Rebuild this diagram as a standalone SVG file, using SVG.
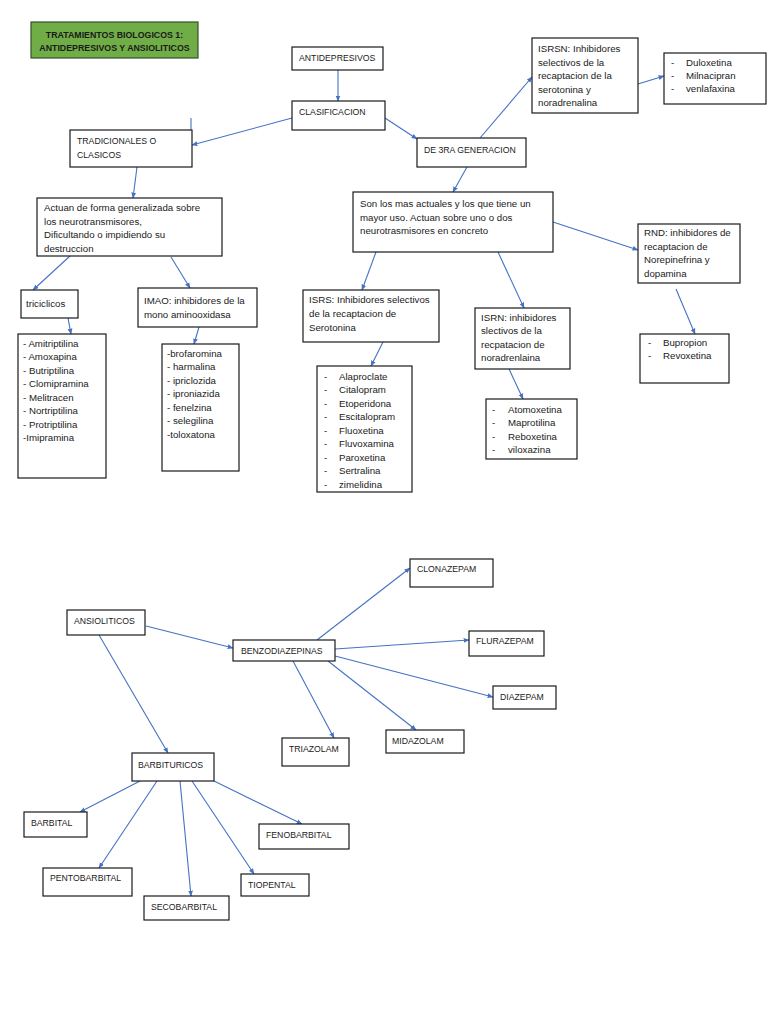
<svg xmlns="http://www.w3.org/2000/svg" width="768" height="1024" viewBox="0 0 768 1024">
<defs>
<marker id="a" viewBox="0 0 10 10" refX="9" refY="5" markerWidth="6" markerHeight="6" orient="auto" markerUnits="userSpaceOnUse"><path d="M0,1 L10,5 L0,9 z" fill="#4472c4"/></marker>
<style>
rect{fill:#fff;stroke:#1a1a1a;stroke-width:1.2}
text{font-family:"Liberation Sans",Arial,sans-serif;font-size:9.7px;fill:#1a1a1a}
text.u{font-size:8.7px}
.c line{stroke:#4472c4;stroke-width:1.1;marker-end:url(#a)}
.c line.n{marker-end:none}
.t rect{fill:#70ad47;stroke:#33512a}
.t text{text-anchor:middle;font-weight:bold;font-size:8.8px}
</style>
</defs>
<rect x="0" y="0" width="768" height="1024" style="fill:#fff;stroke:none"/>
<g id="title" class="t"><rect x="31" y="22" width="167" height="36"/><text x="114.5" y="38">TRATAMIENTOS BIOLOGICOS 1:</text><text x="114.5" y="51">ANTIDEPRESIVOS Y ANSIOLITICOS</text></g>

<g class="c" id="connectors">
<line x1="338" y1="70" x2="338" y2="101"/>
<line x1="292" y1="118" x2="192" y2="145"/>
<line class="n" x1="191" y1="118" x2="191" y2="145"/>
<line x1="385" y1="118" x2="417" y2="139"/>
<line x1="480" y1="138" x2="532" y2="77"/>
<line x1="638" y1="84" x2="664" y2="76"/>
<line x1="137" y1="167" x2="133" y2="198"/>
<line x1="70" y1="256" x2="33" y2="290"/>
<line x1="171" y1="257" x2="190" y2="288"/>
<line x1="68" y1="318" x2="71" y2="334"/>
<line x1="199" y1="327" x2="194" y2="344"/>
<line x1="467" y1="167" x2="453" y2="192"/>
<line x1="376" y1="252" x2="362" y2="290"/>
<line x1="498" y1="252" x2="524" y2="308"/>
<line x1="553" y1="222" x2="638" y2="250"/>
<line x1="383" y1="342" x2="371" y2="366"/>
<line x1="509" y1="369" x2="523" y2="399"/>
<line x1="676" y1="289" x2="695" y2="334"/>
<line x1="146" y1="626" x2="233" y2="648"/>
<line x1="99" y1="635" x2="168" y2="753"/>
<line x1="317" y1="640" x2="410" y2="568"/>
<line x1="335" y1="649" x2="469" y2="640"/>
<line x1="335" y1="656" x2="493" y2="697"/>
<line x1="328" y1="661" x2="416" y2="730"/>
<line x1="293" y1="661" x2="334" y2="738"/>
<line x1="140" y1="781" x2="80" y2="812"/>
<line x1="157" y1="781" x2="99" y2="868"/>
<line x1="180" y1="781" x2="191" y2="896"/>
<line x1="192" y1="781" x2="254" y2="874"/>
<line x1="214" y1="781" x2="302" y2="824"/>
</g>

<g id="antidepresivos"><rect x="292" y="47" width="91" height="23"/><text class="u" x="299" y="61">ANTIDEPRESIVOS</text></g>
<g id="clasificacion"><rect x="292" y="101" width="93" height="29"/><text class="u" x="299" y="115">CLASIFICACION</text></g>
<g id="tercera"><rect x="417" y="138" width="109" height="29"/><text class="u" x="424" y="153">DE 3RA GENERACION</text></g>
<g id="tradicionales"><rect x="70" y="130" width="122" height="37"/><text class="u" x="77" y="144">TRADICIONALES O</text><text class="u" x="77" y="158">CLASICOS</text></g>
<g id="isrsn"><rect x="532" y="38" width="106" height="75"/><text x="538" y="52">ISRSN: Inhibidores</text><text x="538" y="65.5">selectivos de la</text><text x="538" y="79">recaptacion de la</text><text x="538" y="92.5">serotonina y</text><text x="538" y="106">noradrenalina</text></g>
<g id="isrsn-list"><rect x="664" y="53" width="102" height="51"/><text x="671" y="66">-</text><text x="686" y="66">Duloxetina</text><text x="671" y="79">-</text><text x="686" y="79">Milnacipran</text><text x="671" y="92">-</text><text x="686" y="92">venlafaxina</text></g>
<g id="actuan"><rect x="37" y="198" width="185" height="58"/><text x="44" y="211">Actuan de forma generalizada sobre</text><text x="44" y="224.5">los neurotransmisores,</text><text x="44" y="238">Dificultando o impidiendo su</text><text x="44" y="251.5">destruccion</text></g>
<g id="triciclicos"><rect x="21" y="290" width="57" height="28"/><text x="26" y="307">triciclicos</text></g>
<g id="imao"><rect x="138" y="288" width="119" height="39"/><text x="144" y="304">IMAO: inhibidores de la</text><text x="144" y="318">mono aminooxidasa</text></g>
<g id="triciclicos-list"><rect x="18" y="334" width="88" height="144"/><text x="23" y="346.5">- Amitriptilina</text><text x="23" y="360">- Amoxapina</text><text x="23" y="373.5">- Butriptilina</text><text x="23" y="387">- Clomipramina</text><text x="23" y="400.5">- Melitracen</text><text x="23" y="414">- Nortriptilina</text><text x="23" y="427.5">- Protriptilina</text><text x="23" y="441">-Imipramina</text></g>
<g id="imao-list"><rect x="162" y="344" width="77" height="127"/><text x="167" y="356.5">-brofaromina</text><text x="167" y="370">- harmalina</text><text x="167" y="383.5">- ipriclozida</text><text x="167" y="397">- iproniazida</text><text x="167" y="410.5">- fenelzina</text><text x="167" y="424">- selegilina</text><text x="167" y="437.5">-toloxatona</text></g>
<g id="son"><rect x="353" y="192" width="200" height="60"/><text x="360" y="207">Son los mas actuales y los que tiene un</text><text x="360" y="220.5">mayor uso. Actuan sobre uno o dos</text><text x="360" y="234">neurotrasmisores en concreto</text></g>
<g id="isrs"><rect x="303" y="290" width="136" height="52"/><text x="309" y="302.5">ISRS: Inhibidores selectivos</text><text x="309" y="316.5">de la recaptacion de</text><text x="309" y="330.5">Serotonina</text></g>
<g id="isrs-list"><rect x="317" y="366" width="95" height="126"/>
<text x="324" y="379.5">-</text><text x="339" y="379.5">Alaproclate</text>
<text x="324" y="393">-</text><text x="339" y="393">Citalopram</text>
<text x="324" y="406.5">-</text><text x="339" y="406.5">Etoperidona</text>
<text x="324" y="420">-</text><text x="339" y="420">Escitalopram</text>
<text x="324" y="433.5">-</text><text x="339" y="433.5">Fluoxetina</text>
<text x="324" y="447">-</text><text x="339" y="447">Fluvoxamina</text>
<text x="324" y="460.5">-</text><text x="339" y="460.5">Paroxetina</text>
<text x="324" y="474">-</text><text x="339" y="474">Sertralina</text>
<text x="324" y="487.5">-</text><text x="339" y="487.5">zimelidina</text></g>
<g id="isrn"><rect x="475" y="308" width="95" height="61"/><text x="481" y="320.5">ISRN: inhibidores</text><text x="481" y="334">slectivos de la</text><text x="481" y="347.5">recpatacion de</text><text x="481" y="361">noradrenlaina</text></g>
<g id="isrn-list"><rect x="486" y="399" width="91" height="60"/>
<text x="492" y="412.5">-</text><text x="508" y="412.5">Atomoxetina</text>
<text x="492" y="426">-</text><text x="508" y="426">Maprotilina</text>
<text x="492" y="439.5">-</text><text x="508" y="439.5">Reboxetina</text>
<text x="492" y="453">-</text><text x="508" y="453">viloxazina</text></g>
<g id="rnd"><rect x="638" y="224" width="102" height="59"/><text x="644" y="236">RND: inhibidores de</text><text x="644" y="249.5">recaptacion de</text><text x="644" y="263">Norepinefrina y</text><text x="644" y="276.5">dopamina</text></g>
<g id="rnd-list"><rect x="640" y="334" width="89" height="49"/><text x="648" y="345.5">-</text><text x="663" y="345.5">Bupropion</text><text x="648" y="359">-</text><text x="663" y="359">Revoxetina</text></g>

<g id="ansioliticos"><rect x="67" y="610" width="78" height="25"/><text class="u" x="74" y="623.5">ANSIOLITICOS</text></g>
<g id="benzo"><rect x="233" y="640" width="102" height="21"/><text class="u" x="241" y="654">BENZODIAZEPINAS</text></g>
<g id="clonazepam"><rect x="410" y="559" width="83" height="28"/><text class="u" x="417" y="572">CLONAZEPAM</text></g>
<g id="flurazepam"><rect x="469" y="631" width="75" height="25"/><text class="u" x="476" y="643.5">FLURAZEPAM</text></g>
<g id="diazepam"><rect x="493" y="686" width="63" height="23"/><text class="u" x="500" y="699.5">DIAZEPAM</text></g>
<g id="midazolam"><rect x="386" y="730" width="78" height="23"/><text class="u" x="392" y="743.5">MIDAZOLAM</text></g>
<g id="triazolam"><rect x="282" y="738" width="67" height="28"/><text class="u" x="289" y="751.5">TRIAZOLAM</text></g>
<g id="barbituricos"><rect x="132" y="753" width="82" height="28"/><text class="u" x="138" y="767.5">BARBITURICOS</text></g>
<g id="barbital"><rect x="24" y="812" width="63" height="25"/><text class="u" x="31" y="825.5">BARBITAL</text></g>
<g id="fenobarbital"><rect x="259" y="824" width="90" height="25"/><text class="u" x="266" y="837.5">FENOBARBITAL</text></g>
<g id="pentobarbital"><rect x="43" y="868" width="89" height="28"/><text class="u" x="50" y="880.5">PENTOBARBITAL</text></g>
<g id="tiopental"><rect x="241" y="874" width="68" height="22"/><text class="u" x="248" y="887.5">TIOPENTAL</text></g>
<g id="secobarbital"><rect x="144" y="896" width="85" height="24"/><text class="u" x="151" y="909.5">SECOBARBITAL</text></g>
</svg>
